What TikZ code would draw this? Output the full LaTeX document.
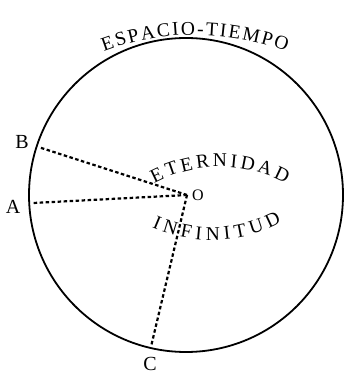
\documentclass[tikz,border=0pt]{standalone}
\usepackage{fontspec}
\setmainfont{Liberation Serif}
\usetikzlibrary{decorations.text,positioning}
\newcommand{\wordfont}{\fontsize{19.5}{22}\selectfont}
\tikzset{
	rimline/.style={draw, circle, line width=1.8pt, inner sep=0pt},
	rayline/.style={line width=2.2pt, dash pattern=on 3.5pt off 2.5pt, shorten >=3pt},
	ptlabel/.style={inner sep=0pt, font=\fontsize{20}{22}\selectfont},
	arcword/.style={font=\wordfont, decorate, decoration={text along path, text align={fit to path}, text={|\wordfont|#1}}}
}

\begin{document}
\begin{tikzpicture}[x=1pt, y=1pt]
	\useasboundingbox (0,0) rectangle (344,375);
	\node[rimline, minimum size=314pt] (st) at (186,180) {};
	\coordinate (O) at (187,180);
	% centres of the word arcs
	\coordinate (ctop) at (195,80);
	\coordinate (cup) at (220,68);
	\coordinate (cdown) at (212,283);
	\path[arcword=ESPACIO-TIEMPO]
		([shift={(110.5:260)}]ctop) arc[start angle=110.5, end angle=69.5, radius=260];
	\path[arcword=ETERNIDAD]
		([shift={(118:140)}]cup) arc[start angle=118, end angle=62, radius=140];
	\path[arcword=INFINITUD]
		([shift={(246:148)}]cdown) arc[start angle=246, end angle=298, radius=148];
	% rays
	\draw[rayline] (O) -- (st.162);
	\draw[rayline] (O) -- (st.183);
	\draw[rayline] (O) -- (st.257.7);
	\node[ptlabel] (B) at (22,233) {B};
	\node[ptlabel] (A) at (13,168) {A};
	\node[ptlabel] (C) at (150,11) {C};
	\node[ptlabel, font=\fontsize{16}{18}\selectfont, right=5pt of O] (olab) {O};
\end{tikzpicture}
\end{document}
